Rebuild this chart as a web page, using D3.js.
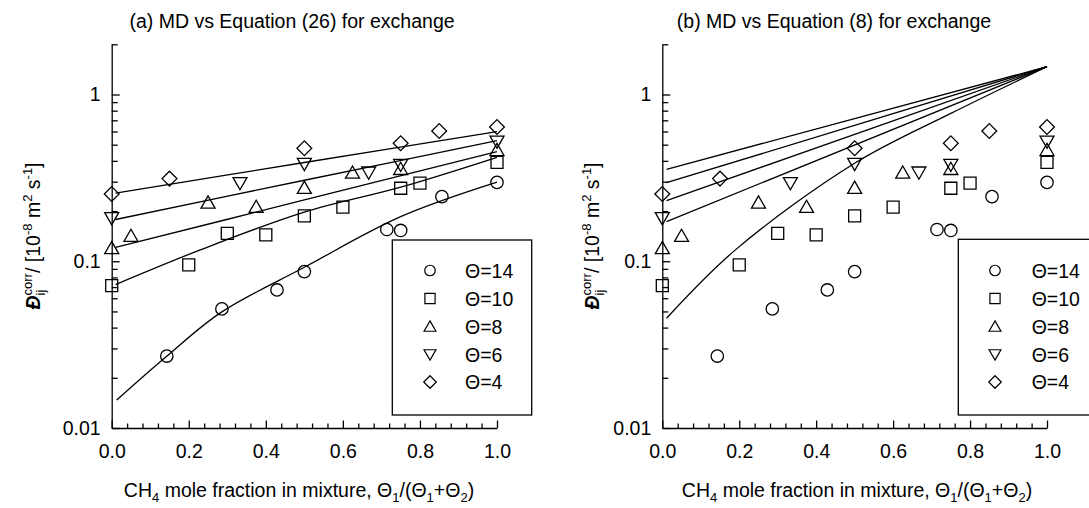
<!DOCTYPE html>
<html>
<head>
<meta charset="utf-8">
<script src="https://cdn.jsdelivr.net/npm/d3@7"></script>
<style>
  body { margin: 0; background: #fff; }
  svg text { font-family: "Liberation Sans", Arial, sans-serif; fill: #000; }
</style>
</head>
<body>
<svg id="chart" width="1089" height="508"></svg>
<script>
// ---- tick values ----
const xTickValues = [0, 0.2, 0.4, 0.6, 0.8, 1.0];
const xMinorTickValues = [0.04, 0.08, 0.12, 0.16, 0.24, 0.28, 0.32, 0.36, 0.44, 0.48, 0.52, 0.56,
                          0.64, 0.68, 0.72, 0.76, 0.84, 0.88, 0.92, 0.96];
const yTickValues = [0.01, 0.1, 1];
const yDomain = [0.01, 2];

// ---- series (loading Θ) ----
const seriesLabels = ["Θ=14", "Θ=10", "Θ=8", "Θ=6", "Θ=4"];
const seriesShapes = ["circle", "square", "triUp", "triDown", "diamond"];

// MD simulation points: CH4 mole fraction vs Maxwell-Stefan exchange coefficient
const mdX14 = [0.143, 0.286, 0.429, 0.5, 0.714, 0.75, 0.857, 1.0];
const mdD14 = [0.027, 0.0518, 0.0673, 0.0866, 0.155, 0.153, 0.244, 0.297];
const mdX10 = [0, 0.2, 0.3, 0.4, 0.5, 0.6, 0.75, 0.8, 1.0];
const mdD10 = [0.0714, 0.095, 0.147, 0.144, 0.187, 0.211, 0.274, 0.294, 0.392];
const mdX8 = [0, 0.05, 0.25, 0.375, 0.5, 0.625, 0.75, 1.0];
const mdD8 = [0.12, 0.142, 0.225, 0.212, 0.276, 0.34, 0.358, 0.465];
const mdX6 = [0, 0.333, 0.5, 0.667, 0.75, 1.0];
const mdD6 = [0.181, 0.294, 0.383, 0.34, 0.378, 0.521];
const mdX4 = [0, 0.15, 0.5, 0.75, 0.85, 1.0];
const mdD4 = [0.253, 0.313, 0.476, 0.51, 0.604, 0.638];

// Equation (26) predictions
const eq26X14 = [0.013, 0.142, 0.282, 0.5, 0.75, 1.0];
const eq26D14 = [0.0147, 0.0268, 0.049, 0.092, 0.185, 0.298];
const eq26X10 = [0.01, 0.23, 0.5, 0.75, 1.0];
const eq26D10 = [0.0725, 0.117, 0.197, 0.278, 0.42];
const eq26X8 = [0.01, 0.5, 1.0];
const eq26D8 = [0.121, 0.233, 0.454];
const eq26X6 = [0.01, 0.5, 1.0];
const eq26D6 = [0.178, 0.306, 0.529];
const eq26X4 = [0.01, 0.5, 1.0];
const eq26D4 = [0.256, 0.391, 0.598];

// Equation (8) predictions
const eq8X14 = [0.011, 0.19, 0.5, 0.75, 1.0];
const eq8D14 = [0.0455, 0.117, 0.387, 0.77, 1.468];
const eq8X10 = [0.011, 1.0];
const eq8D10 = [0.173, 1.468];
const eq8X8 = [0.011, 1.0];
const eq8D8 = [0.231, 1.468];
const eq8X6 = [0.011, 1.0];
const eq8D6 = [0.296, 1.468];
const eq8X4 = [0.011, 1.0];
const eq8D4 = [0.356, 1.468];

const zip = (xs, ys) => xs.map((x, i) => ({ x, y: ys[i] }));
const mdSeries = [zip(mdX14, mdD14), zip(mdX10, mdD10), zip(mdX8, mdD8), zip(mdX6, mdD6), zip(mdX4, mdD4)];
const eq26Series = [zip(eq26X14, eq26D14), zip(eq26X10, eq26D10), zip(eq26X8, eq26D8), zip(eq26X6, eq26D6), zip(eq26X4, eq26D4)];
const eq8Series = [zip(eq8X14, eq8D14), zip(eq8X10, eq8D10), zip(eq8X8, eq8D8), zip(eq8X6, eq8D6), zip(eq8X4, eq8D4)];

// ---- marker shapes ----
function shapePath(kind, k) {
  const p = d3.path();
  if (kind === "circle") {
    const r = 6.2 * k; p.moveTo(r, 0); p.arc(0, 0, r, 0, 2 * Math.PI); p.closePath();
  } else if (kind === "square") {
    const h = 6 * k; p.rect(-h, -h, 2 * h, 2 * h);
  } else if (kind === "triUp") {
    p.moveTo(0, -6.6 * k); p.lineTo(7 * k, 5.6 * k); p.lineTo(-7 * k, 5.6 * k); p.closePath();
  } else if (kind === "triDown") {
    p.moveTo(0, 6.6 * k); p.lineTo(7 * k, -5.6 * k); p.lineTo(-7 * k, -5.6 * k); p.closePath();
  } else {
    const h = 7.4 * k; p.moveTo(0, -h); p.lineTo(h, 0); p.lineTo(0, h); p.lineTo(-h, 0); p.closePath();
  }
  return p.toString();
}

const svg = d3.select("#chart");
const FS = 19.5;
const SFS = 13;

const panels = [
  { x0: 111.7, x1: 497, yTop: 44.3, yBot: 428, title: "(a) MD vs Equation (26) for exchange", titleX: 292,
    lines: eq26Series, ylabX: 40, xlabX: 299,
    legend: { x: 392.3, y: 240, w: 139.4, h: 175, symX: 430, textX: 465 } },
  { x0: 662.3, x1: 1047, yTop: 44.3, yBot: 428, title: "(b) MD vs Equation (8) for exchange", titleX: 834,
    lines: eq8Series, ylabX: 599, xlabX: 857,
    legend: { x: 958.3, y: 239.3, w: 145, h: 175.7, symX: 995, textX: 1031.7 } }
];
const legendRows = [270.5, 298.5, 326.5, 354.5, 382];

panels.forEach(P => {
  const x = d3.scaleLinear().domain([0, 1]).range([P.x0, P.x1]);
  const y = d3.scaleLog().domain(yDomain).range([P.yBot, P.yTop]);
  const g = svg.append("g");

  // title
  g.append("text").attr("x", P.titleX).attr("y", 28).attr("text-anchor", "middle")
    .attr("font-size", FS).text(P.title);

  // model curves
  const line = d3.line().x(d => x(d.x)).y(d => y(d.y)).curve(d3.curveCatmullRom.alpha(0.5));
  P.lines.forEach(s => {
    g.append("path").attr("d", line(s)).attr("fill", "none").attr("stroke", "#000").attr("stroke-width", 1.3);
  });

  // MD points
  mdSeries.forEach((s, i) => {
    g.selectAll(null).data(s).enter().append("path")
      .attr("transform", d => `translate(${x(d.x)},${y(d.y)})`)
      .attr("d", shapePath(seriesShapes[i], 1))
      .attr("fill", "none").attr("stroke", "#000").attr("stroke-width", 1.3);
  });

  // axes
  g.append("g").attr("transform", `translate(0,${P.yBot})`)
    .call(d3.axisBottom(x).tickValues(xTickValues).tickFormat(d3.format(".1f"))
      .tickSizeInner(-7.5).tickSizeOuter(0).tickPadding(16.5));
  g.append("g").attr("transform", `translate(0,${P.yBot})`)
    .call(d3.axisBottom(x).tickValues(xMinorTickValues).tickFormat("").tickSizeInner(-4.5).tickSizeOuter(0))
    .call(a => a.select(".domain").remove());
  g.append("g").attr("transform", `translate(${P.x0},0)`)
    .call(d3.axisLeft(y).tickValues(yTickValues).tickFormat(d3.format("~g"))
      .tickSizeInner(-8).tickSizeOuter(0).tickPadding(11));
  g.append("g").attr("transform", `translate(${P.x0},0)`)
    .call(d3.axisLeft(y).tickValues(y.ticks().filter(v => !yTickValues.includes(v))).tickFormat("")
      .tickSizeInner(-6).tickSizeOuter(0))
    .call(a => a.select(".domain").remove());
  g.selectAll(".domain, .tick line").attr("stroke", "#000").attr("stroke-width", 1.3);
  g.selectAll(".tick text").attr("font-size", FS).attr("font-family", null);

  // legend
  const L = P.legend;
  g.append("rect").attr("x", L.x).attr("y", L.y).attr("width", L.w).attr("height", L.h)
    .attr("fill", "#fff").attr("stroke", "#000").attr("stroke-width", 1.3);
  seriesLabels.forEach((lab, i) => {
    g.append("path").attr("transform", `translate(${L.symX},${legendRows[i]})`)
      .attr("d", shapePath(seriesShapes[i], 0.85)).attr("fill", "none").attr("stroke", "#000").attr("stroke-width", 1.2);
    g.append("text").attr("x", L.textX).attr("y", legendRows[i] + 7).attr("font-size", FS).text(lab);
  });

  // x axis title
  const xt = g.append("text").attr("x", P.xlabX).attr("y", 497).attr("text-anchor", "middle").attr("font-size", FS);
  xt.append("tspan").text("CH");
  xt.append("tspan").attr("font-size", SFS).attr("dy", 5).text("4");
  xt.append("tspan").attr("dy", -5).text(" mole fraction in mixture, Θ");
  xt.append("tspan").attr("font-size", SFS).attr("dy", 5).text("1");
  xt.append("tspan").attr("dy", -5).text("/(Θ");
  xt.append("tspan").attr("font-size", SFS).attr("dy", 5).text("1");
  xt.append("tspan").attr("dy", -5).text("+Θ");
  xt.append("tspan").attr("font-size", SFS).attr("dy", 5).text("2");
  xt.append("tspan").attr("dy", -5).text(")");

  // y axis title (rotated)
  const yt = g.append("text").attr("transform", `translate(${P.ylabX},236) rotate(-90)`)
    .attr("text-anchor", "middle").attr("font-size", FS);
  yt.append("tspan").attr("font-style", "italic").attr("font-weight", "bold").text("Đ");
  const ij = yt.append("tspan").attr("font-size", SFS).attr("dy", 5).text("ij");
  const ijw = ij.node().getComputedTextLength();
  yt.append("tspan").attr("font-size", SFS).attr("dx", -ijw).attr("dy", -13).text("corr");
  yt.append("tspan").attr("dy", 8).text("/ [10");
  yt.append("tspan").attr("font-size", SFS).attr("dy", -8).text("-8");
  yt.append("tspan").attr("dy", 8).text(" m");
  yt.append("tspan").attr("font-size", SFS).attr("dy", -8).text("2");
  yt.append("tspan").attr("dy", 8).text(" s");
  yt.append("tspan").attr("font-size", SFS).attr("dy", -8).text("-1");
  yt.append("tspan").attr("dy", 8).text("]");
});
</script>
</body>
</html>
